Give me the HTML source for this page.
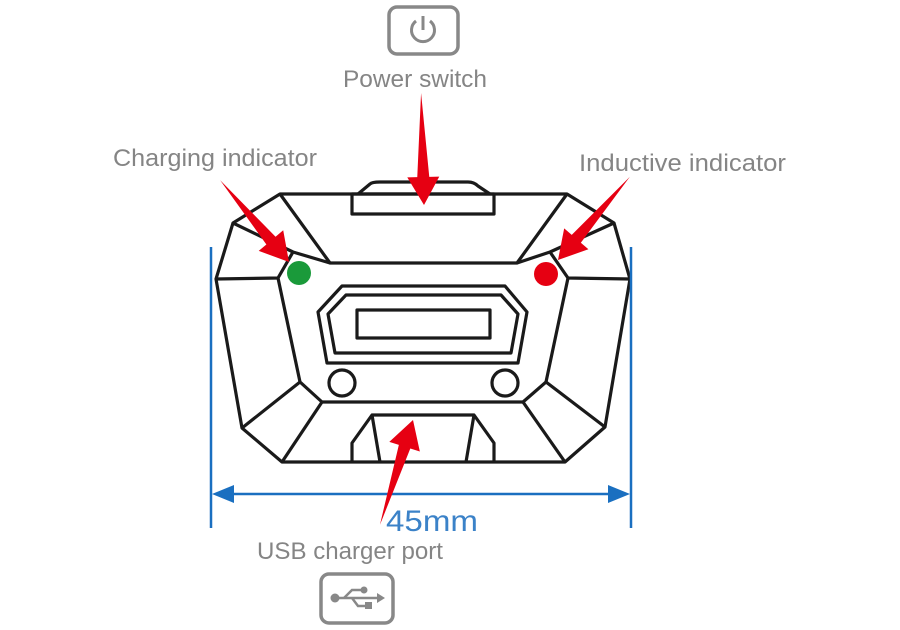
<!DOCTYPE html>
<html><head><meta charset="utf-8"><style>
html,body{margin:0;padding:0;background:#fff;}
svg{display:block}
text{font-family:"Liberation Sans",sans-serif;fill:#858585}
</style></head><body>
<svg width="900" height="630" viewBox="0 0 900 630" xmlns="http://www.w3.org/2000/svg">
<!-- power icon -->
<rect x="389" y="7" width="69" height="47" rx="8" fill="none" stroke="#888" stroke-width="3.5"/>
<path d="M416 21 A11.5 11.5 0 1 0 430 21" fill="none" stroke="#888" stroke-width="3"/>
<line x1="423" y1="16" x2="423" y2="30" stroke="#888" stroke-width="3"/>
<text x="343" y="87" font-size="24" textLength="144" lengthAdjust="spacingAndGlyphs">Power switch</text>
<text x="113" y="166" font-size="24" textLength="204" lengthAdjust="spacingAndGlyphs">Charging indicator</text>
<text x="579" y="171" font-size="24" textLength="207" lengthAdjust="spacingAndGlyphs">Inductive indicator</text>

<!-- device -->
<g fill="none" stroke="#1a1a1a" stroke-width="3.2" stroke-linejoin="round">
<path d="M358 194 L370 184 Q372 182 380 182 L468 182 Q474 182 478 186 L490 194"/>
<rect x="352" y="194" width="142" height="20"/>
<path d="M280 194 L567 194 L614 223 L630 279 L605 427 L565 462 L282 462 L242 428 L216 279 L233 223 Z"/>
<path d="M280 194 L330 263 L517 263 L567 194"/>
<path d="M233 223 L293 252 L330 263"/>
<path d="M614 223 L550 252 L517 263"/>
<path d="M216 279 L278 278 L293 252"/>
<path d="M630 279 L568 278 L550 252"/>
<path d="M278 278 L300 382 L322 402 L523 402 L546 382 L568 278"/>
<path d="M300 382 L242 428"/><path d="M322 402 L282 462"/>
<path d="M546 382 L605 427"/><path d="M523 402 L565 462"/>
<path d="M352 462 L352 443 L372 415 L474 415 L494 443 L494 462"/>
<path d="M372 415 L380 462"/><path d="M474 415 L466 462"/>
<path d="M342 286 L505 286 L527 312 L518 363 L327 363 L318 312 Z"/>
<path d="M346 295 L501 295 L518 314 L511 353 L335 353 L328 314 Z"/>
<rect x="357" y="310" width="133" height="28"/>
<circle cx="342" cy="383" r="13"/>
<circle cx="505" cy="383" r="13"/>
</g>
<circle cx="299" cy="273" r="12" fill="#1a9a3a"/>
<circle cx="546" cy="274" r="12" fill="#e60012"/>

<!-- dimension -->
<g stroke="#1a6fc0" stroke-width="2.5">
<line x1="211" y1="247" x2="211" y2="528"/>
<line x1="631" y1="247" x2="631" y2="528"/>
<line x1="225" y1="494" x2="617" y2="494"/>
</g>
<polygon points="212,494 234,485 234,503" fill="#1a6fc0"/>
<polygon points="630,494 608,485 608,503" fill="#1a6fc0"/>

<!-- red arrows -->
<g fill="#e60012">
<polygon transform="translate(424,205) rotate(88.5)" points="-112,0 -28,-6 -28,-16 0,0 -28,16 -28,6"/>
<polygon transform="translate(289,262) rotate(49.9)" points="-107,0 -28,-6 -28,-16 0,0 -28,16 -28,6"/>
<polygon transform="translate(558,260) rotate(130.8)" points="-110,0 -28,-6 -28,-16 0,0 -28,16 -28,6"/>
<polygon transform="translate(413,420) rotate(-72.5)" points="-110,0 -28,-6 -28,-16 0,0 -28,16 -28,6"/>
</g>

<text x="386" y="531" font-size="30" style="fill:#3b82c8" textLength="92" lengthAdjust="spacingAndGlyphs">45mm</text>
<text x="257" y="559" font-size="24" textLength="186" lengthAdjust="spacingAndGlyphs">USB charger port</text>

<!-- usb icon -->
<rect x="321" y="574" width="72" height="49" rx="8" fill="none" stroke="#888" stroke-width="3.5"/>
<g stroke="#888" stroke-width="2.5" fill="none">
<line x1="335" y1="598" x2="381" y2="598"/>
<path d="M344 598 L352 590 L362 590"/>
<path d="M352 598 L358 606 L366 606"/>
</g>
<circle cx="335" cy="598" r="4.5" fill="#888"/>
<circle cx="364" cy="590" r="3.5" fill="#888"/>
<rect x="365" y="602" width="7" height="7" fill="#888"/>
<polygon points="385,598 377,593 377,603" fill="#888"/>
</svg>
</body></html>
